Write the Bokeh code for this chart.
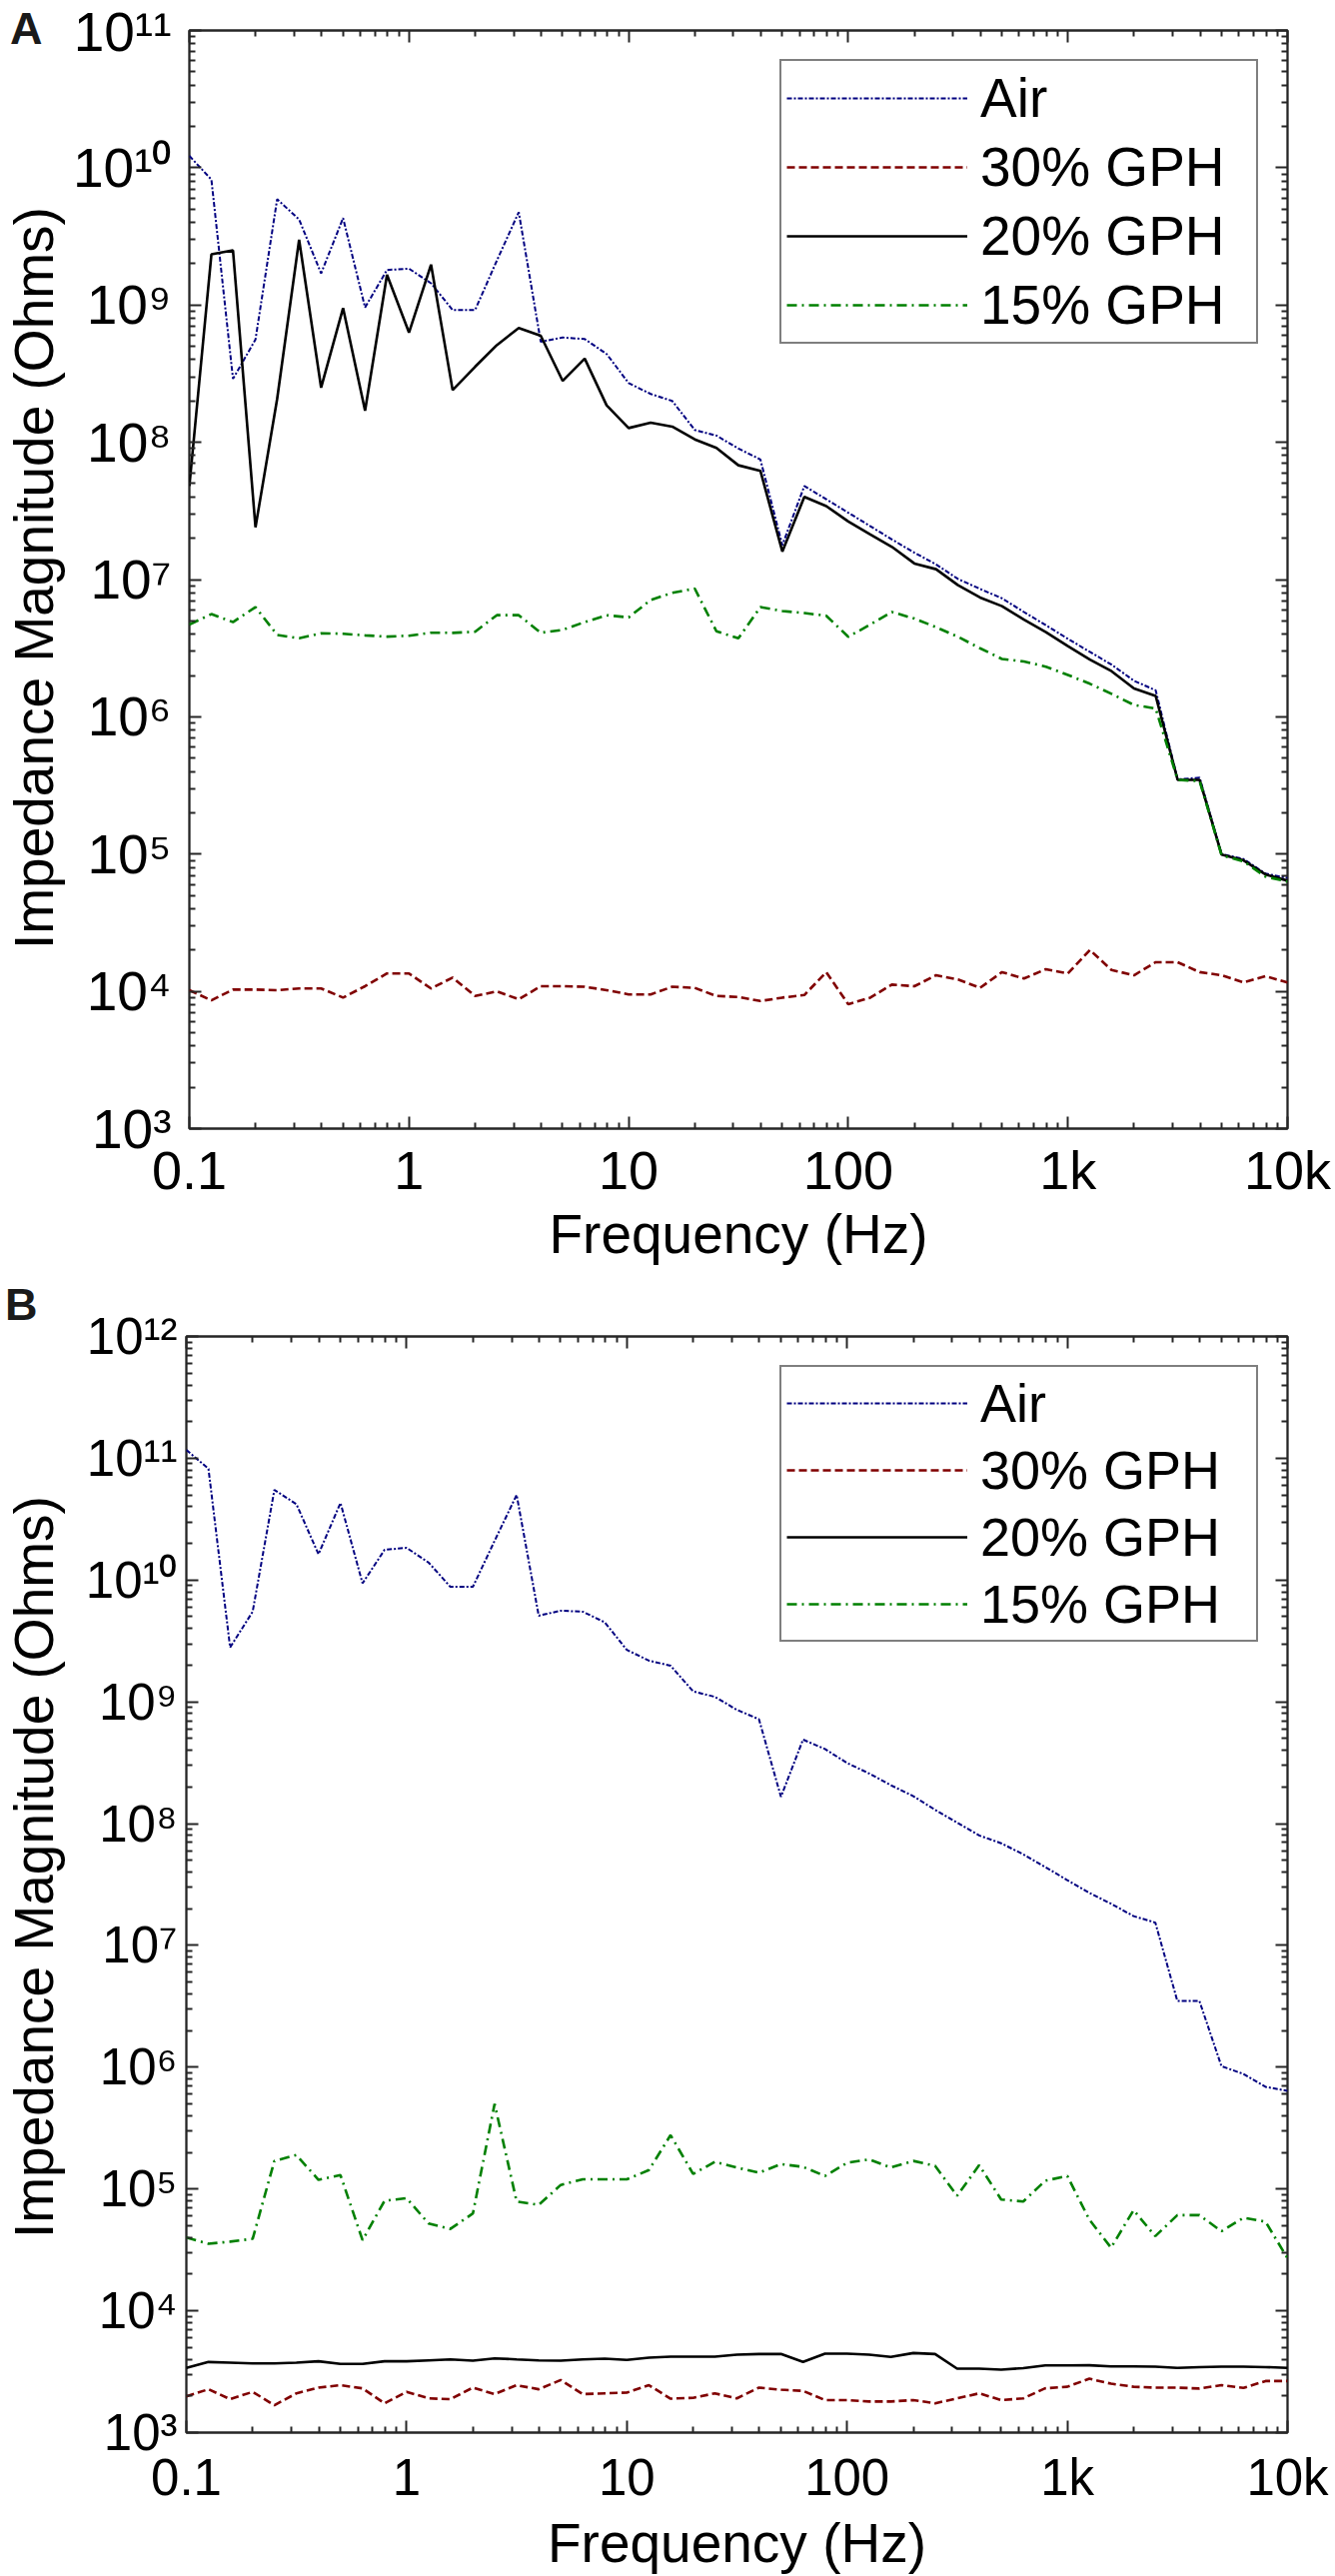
from bokeh.plotting import figure
from bokeh.models import (FixedTicker, LogAxis, CustomJSTickFormatter, Legend, LegendItem, Range1d, Div)
from bokeh.layouts import column, row
from bokeh.embed import file_html
from bokeh.resources import INLINE

# ---------------- data ----------------
freq = [0.1, 0.126, 0.158, 0.2, 0.251, 0.316, 0.398, 0.501, 0.631, 0.794,
        1, 1.26, 1.58, 2, 2.51, 3.16, 3.98, 5.01, 6.31, 7.94,
        10, 12.6, 15.8, 20, 25.1, 31.6, 39.8, 50.1, 63.1, 79.4,
        100, 126, 158, 200, 251, 316, 398, 501, 631, 794,
        1000, 1260, 1580, 2000, 2510, 3160, 3980, 5010, 6310, 7940, 10000]

series_names = ["Air", "30% GPH", "20% GPH", "15% GPH"]

air_a = [1.22e10, 8.2e9, 2.9e8, 5.6e8, 5.9e9, 4.2e9, 1.7e9, 4.3e9, 9.6e8, 1.8e9,
         1.84e9, 1.44e9, 9.2e8, 9.2e8, 2.1e9, 4.75e9, 5.4e8, 5.8e8, 5.65e8, 4.4e8,
         2.7e8, 2.25e8, 2.0e8, 1.23e8, 1.12e8, 9.0e7, 7.5e7, 1.78e7, 4.8e7, 3.85e7,
         3.07e7, 2.45e7, 1.96e7, 1.57e7, 1.29e7, 1.01e7, 8.55e6, 7.3e6, 5.8e6, 4.65e6,
         3.7e6, 2.97e6, 2.4e6, 1.83e6, 1.56e6, 3.5e5, 3.6e5, 1.0e5, 9.2e4, 7.2e4, 6.7e4]
gph30_a = [1.02e4, 8.6e3, 1.03e4, 1.03e4, 1.02e4, 1.05e4, 1.05e4, 9.0e3, 1.09e4, 1.35e4,
           1.35e4, 1.05e4, 1.26e4, 9.25e3, 1.0e4, 8.75e3, 1.09e4, 1.09e4, 1.08e4, 1.02e4,
           9.5e3, 9.5e3, 1.08e4, 1.06e4, 9.25e3, 9.1e3, 8.5e3, 9.0e3, 9.4e3, 1.38e4,
           8.05e3, 9.0e3, 1.12e4, 1.09e4, 1.31e4, 1.22e4, 1.06e4, 1.38e4, 1.24e4, 1.45e4,
           1.35e4, 2.0e4, 1.43e4, 1.31e4, 1.63e4, 1.63e4, 1.38e4, 1.31e4, 1.16e4, 1.29e4, 1.16e4]
gph20_a = [4.8e7, 2.34e9, 2.5e9, 2.4e7, 2.07e8, 2.99e9, 2.5e8, 9.5e8, 1.7e8, 1.66e9,
           6.3e8, 1.97e9, 2.4e8, 3.55e8, 5.1e8, 6.8e8, 5.97e8, 2.8e8, 4.07e8, 1.86e8,
           1.27e8, 1.39e8, 1.3e8, 1.05e8, 9.1e7, 6.8e7, 6.2e7, 1.6e7, 4.0e7, 3.43e7,
           2.65e7, 2.13e7, 1.73e7, 1.31e7, 1.19e7, 9.1e6, 7.4e6, 6.4e6, 5.1e6, 4.14e6,
           3.27e6, 2.61e6, 2.15e6, 1.61e6, 1.42e6, 3.47e5, 3.47e5, 9.9e4, 9.0e4, 7.1e4, 6.4e4]
gph15_a = [4.7e6, 5.6e6, 4.9e6, 6.3e6, 3.95e6, 3.73e6, 4.06e6, 4.03e6, 3.92e6, 3.84e6,
           3.9e6, 4.1e6, 4.09e6, 4.17e6, 5.5e6, 5.5e6, 4.1e6, 4.3e6, 4.9e6, 5.5e6,
           5.3e6, 7.1e6, 8.0e6, 8.6e6, 4.2e6, 3.73e6, 6.3e6, 5.9e6, 5.7e6, 5.45e6,
           3.83e6, 4.7e6, 5.8e6, 5.2e6, 4.5e6, 3.83e6, 3.16e6, 2.64e6, 2.53e6, 2.32e6,
           2.02e6, 1.74e6, 1.47e6, 1.22e6, 1.15e6, 3.47e5, 3.4e5, 9.8e4, 8.85e4, 6.85e4, 6.3e4]

air_b = [1.17e11, 8.2e10, 2.8e9, 5.5e9, 5.5e10, 4.2e10, 1.63e10, 4.3e10, 9.4e9, 1.77e10,
         1.84e10, 1.39e10, 8.8e9, 8.8e9, 2.1e10, 5.0e10, 5.1e9, 5.6e9, 5.5e9, 4.5e9,
         2.67e9, 2.18e9, 1.98e9, 1.22e9, 1.1e9, 8.6e8, 7.2e8, 1.66e8, 4.9e8, 4.1e8,
         3.15e8, 2.58e8, 2.07e8, 1.68e8, 1.3e8, 1.02e8, 8.0e7, 6.9e7, 5.6e7, 4.4e7,
         3.44e7, 2.7e7, 2.2e7, 1.74e7, 1.54e7, 3.5e6, 3.5e6, 1.02e6, 8.8e5, 6.9e5, 6.4e5]
gph30_b = [1.98e3, 2.27e3, 1.88e3, 2.16e3, 1.68e3, 2.1e3, 2.34e3, 2.45e3, 2.31e3, 1.74e3,
           2.16e3, 1.91e3, 1.88e3, 2.34e3, 2.07e3, 2.45e3, 2.27e3, 2.7e3, 2.07e3, 2.1e3,
           2.13e3, 2.45e3, 1.9e3, 1.93e3, 2.1e3, 1.91e3, 2.34e3, 2.25e3, 2.2e3, 1.85e3,
           1.85e3, 1.8e3, 1.8e3, 1.85e3, 1.74e3, 1.91e3, 2.1e3, 1.85e3, 1.91e3, 2.31e3,
           2.38e3, 2.77e3, 2.52e3, 2.38e3, 2.34e3, 2.34e3, 2.3e3, 2.45e3, 2.33e3, 2.65e3, 2.65e3]
gph20_b = [3.4e3, 3.8e3, 3.75e3, 3.7e3, 3.7e3, 3.75e3, 3.85e3, 3.66e3, 3.66e3, 3.85e3,
           3.85e3, 3.92e3, 3.99e3, 3.9e3, 4.07e3, 3.99e3, 3.92e3, 3.9e3, 3.99e3, 4.05e3,
           3.95e3, 4.12e3, 4.2e3, 4.2e3, 4.2e3, 4.36e3, 4.42e3, 4.42e3, 3.8e3, 4.45e3,
           4.45e3, 4.36e3, 4.18e3, 4.5e3, 4.42e3, 3.35e3, 3.35e3, 3.29e3, 3.38e3, 3.56e3,
           3.56e3, 3.57e3, 3.5e3, 3.5e3, 3.48e3, 3.4e3, 3.45e3, 3.48e3, 3.48e3, 3.45e3, 3.4e3]
gph15_b = [4.0e4, 3.55e4, 3.7e4, 3.9e4, 1.7e5, 1.9e5, 1.19e5, 1.3e5, 3.8e4, 8.0e4,
           8.4e4, 5.2e4, 4.7e4, 6.3e4, 5.0e5, 7.9e4, 7.4e4, 1.08e5, 1.2e5, 1.2e5,
           1.2e5, 1.43e5, 2.77e5, 1.33e5, 1.67e5, 1.5e5, 1.36e5, 1.6e5, 1.52e5, 1.28e5,
           1.64e5, 1.75e5, 1.5e5, 1.7e5, 1.55e5, 8.8e4, 1.57e5, 8.2e4, 7.9e4, 1.17e5,
           1.28e5, 5.6e4, 3.3e4, 6.7e4, 4.1e4, 6.1e4, 6.1e4, 4.5e4, 5.8e4, 5.4e4, 2.7e4]

x_tick_values = [0.1, 1, 10, 100, 1000, 10000]
x_tick_labels = ["0.1", "1", "10", "100", "1k", "10k"]
y_exponents_a = [3, 4, 5, 6, 7, 8, 9, 10, 11]
y_exponents_b = [3, 4, 5, 6, 7, 8, 9, 10, 11, 12]

x_label = "Frequency (Hz)"
y_label = "Impedance Magnitude (Ohms)"
panel_letters = ["A", "B"]

# ---------------- styles ----------------
FONT = "Liberation Sans"
AX = "#262626"
SUP = str.maketrans("0123456789", "\u2070\u00b9\u00b2\u00b3\u2074\u2075\u2076\u2077\u2078\u2079")
styles = [
    dict(color="#000080", line_width=2.0, line_dash="5 2 2 2"),
    dict(color="#800000", line_width=2.6, line_dash="8 4"),
    dict(color="#000000", line_width=2.6, line_dash="solid"),
    dict(color="#008000", line_width=2.6, line_dash="10 5 2 5"),
]
SIDE_W = 70


def label_formatter(vals, labels):
    return CustomJSTickFormatter(
        args=dict(vals=vals, labels=labels),
        code="""
        for (let i = 0; i < vals.length; i++) {
            if (Math.abs(Math.log10(tick) - Math.log10(vals[i])) < 1e-6) return labels[i];
        }
        return '';
        """)


def style_axis(ax, ticks, minors, show_labels):
    ax.ticker = FixedTicker(ticks=ticks, minor_ticks=minors)
    ax.axis_line_color = None
    ax.major_tick_in = 12
    ax.major_tick_out = 0
    ax.minor_tick_in = 6
    ax.minor_tick_out = 0
    ax.major_tick_line_color = AX
    ax.minor_tick_line_color = AX
    ax.major_tick_line_width = 2
    ax.minor_tick_line_width = 2
    if not show_labels:
        ax.formatter = CustomJSTickFormatter(code="return '';")
        ax.major_label_text_font_size = "1px"
        ax.major_label_standoff = 0


def make_side(letter, height, cfg):
    html = (
        f'<div style="position:relative;width:{SIDE_W}px;height:{height}px;overflow:visible;'
        f"font-family:'{FONT}';\">"
        f'<div style="position:absolute;left:{cfg["let_x"]}px;top:{cfg["let_top"]}px;'
        f'font-size:45px;font-weight:bold;line-height:normal;color:#1a1a1a;white-space:nowrap;">'
        f'{letter}</div>'
        f'<div style="position:absolute;left:2px;top:{cfg["ytitle_start"]}px;font-size:55px;'
        f'line-height:normal;color:black;white-space:nowrap;transform:rotate(-90deg);'
        f'transform-origin:0 0;">{y_label}</div>'
        f'</div>'
    )
    return Div(text=html, width=SIDE_W, height=height, margin=0)


def make_panel(data, y_exps, cfg):
    lo, hi = y_exps[0], y_exps[-1]
    p = figure(width=1336 - SIDE_W, height=cfg["height"], x_axis_type="log", y_axis_type="log",
               x_range=Range1d(x_tick_values[0], x_tick_values[-1]),
               y_range=Range1d(10.0 ** lo, 10.0 ** hi),
               output_backend="svg", toolbar_location=None,
               min_border_left=186 - SIDE_W, min_border_right=48,
               min_border_top=cfg["top"], min_border_bottom=cfg["bottom"])
    p.xgrid.grid_line_color = None
    p.ygrid.grid_line_color = None
    p.outline_line_color = AX
    p.outline_line_width = 2.3
    p.background_fill_color = "white"
    p.border_fill_color = "white"

    xmin = [m * 10.0 ** k for k in range(-1, 4) for m in range(2, 10)]
    ymaj = [10.0 ** e for e in y_exps]
    ymin = [m * 10.0 ** k for k in range(lo, hi) for m in range(2, 10)]
    y_tick_labels = ["10" + str(e).translate(SUP) for e in y_exps]

    bx = p.xaxis[0]
    style_axis(bx, x_tick_values, xmin, True)
    bx.formatter = label_formatter(x_tick_values, x_tick_labels)
    bx.major_label_text_font = FONT
    bx.major_label_text_font_size = cfg["xtick_fs"]
    bx.major_label_text_color = "black"
    bx.major_label_standoff = cfg["xtick_standoff"]
    bx.axis_label = x_label
    bx.axis_label_text_font = FONT
    bx.axis_label_text_font_size = "55px"
    bx.axis_label_text_font_style = "normal"
    bx.axis_label_text_color = "black"
    bx.axis_label_standoff = cfg["xlabel_standoff"]

    ly = p.yaxis[0]
    style_axis(ly, ymaj, ymin, True)
    ly.formatter = label_formatter(ymaj, y_tick_labels)
    ly.major_label_text_font = FONT
    ly.major_label_text_font_size = cfg["ytick_fs"]
    ly.major_label_text_color = "black"
    ly.major_label_standoff = cfg["ytick_standoff"]

    top = LogAxis()
    style_axis(top, x_tick_values, xmin, False)
    p.add_layout(top, "above")
    right = LogAxis()
    style_axis(right, ymaj, ymin, False)
    p.add_layout(right, "right")

    renderers = []
    for name, ys, st in zip(series_names, data, styles):
        r = p.line(freq, ys, line_color=st["color"], line_width=st["line_width"],
                   line_dash=st["line_dash"])
        renderers.append(r)

    legend = Legend(items=[LegendItem(label=n, renderers=[r]) for n, r in zip(series_names, renderers)],
                    location="top_right", margin=29, padding=5, spacing=5,
                    glyph_width=181, glyph_height=62, label_height=62, label_width=271,
                    label_standoff=13, label_text_font=FONT, label_text_font_size=cfg["legend_fs"],
                    label_text_color="black", border_line_color="black", border_line_width=2,
                    background_fill_color="white", background_fill_alpha=1.0)
    p.add_layout(legend)
    return p


cfg_a = dict(height=1290, top=30, bottom=161, xtick_fs="54px", xtick_standoff=11,
             xlabel_standoff=0, legend_fs="55px", ytick_fs="55px", ytick_standoff=18,
             let_x=10, let_top=3, ytitle_start=950)
cfg_b = dict(height=1288, top=47, bottom=141, xtick_fs="51px", xtick_standoff=16,
             xlabel_standoff=3, legend_fs="54px", ytick_fs="51px", ytick_standoff=9,
             let_x=5, let_top=-10, ytitle_start=950)

side_a = make_side(panel_letters[0], cfg_a["height"], cfg_a)
main_a = make_panel([air_a, gph30_a, gph20_a, gph15_a], y_exponents_a, cfg_a)
side_b = make_side(panel_letters[1], cfg_b["height"], cfg_b)
main_b = make_panel([air_b, gph30_b, gph20_b, gph15_b], y_exponents_b, cfg_b)

layout = column(row(side_a, main_a, spacing=0), row(side_b, main_b, spacing=0), spacing=0)
open("out.html", "w").write(file_html(layout, INLINE))
